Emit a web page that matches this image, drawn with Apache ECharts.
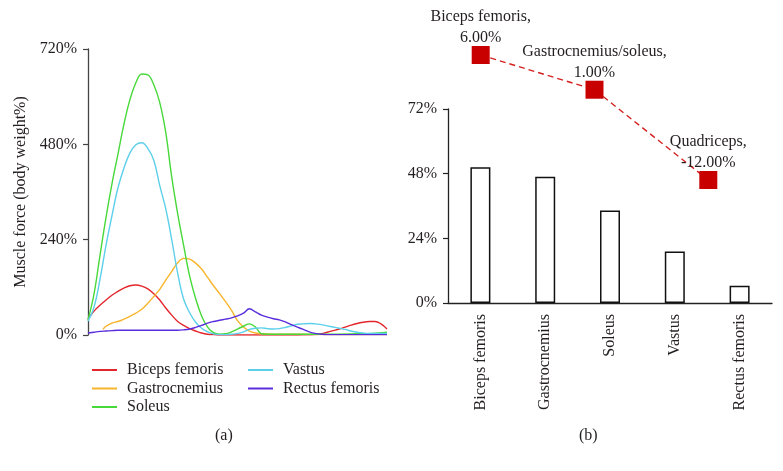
<!DOCTYPE html>
<html><head><meta charset="utf-8">
<script src="https://cdn.jsdelivr.net/npm/echarts/dist/echarts.min.js"></script>
<style>html,body{margin:0;padding:0;background:#fff}#c{width:783px;height:471px}</style>
</head><body><div id="c"></div><script>
const FONT = '"Liberation Serif", "DejaVu Serif", serif';
const TXT = '#231f20';

// (a) muscle force vs. gait cycle [% of cycle, % body weight]
const bicepsFemoris = [[0,40],[2,60],[4,75],[6,88],[8,100],[10,110],[12,118],[14,124],[16,126],[18,123],[20,116],[22,104],[24,88],[26,68],[28,50],[30,34],[32,24],[34,16],[36,10],[38,5],[40,2],[42,1],[44,0],[50,0],[60,0],[70,0],[74,0.5],[76,1],[78,3],[80,7],[82,11],[84,15],[86,20],[88,25],[90,29],[92,32],[94,34],[96,34],[98,28],[100,15]];
const gastrocnemius = [[5,14],[6,22],[8,30],[10,34],[12,40],[14,47],[16,55],[18,65],[20,80],[22,97],[24,115],[26,138],[28,160],[30,182],[32,193],[34,191],[36,181],[38,166],[40,145],[42,124],[44,104],[46,84],[48,62],[50,36],[52,20],[54,10],[56,5],[58,3],[62,2],[70,2],[80,1],[90,1],[100,1]];
const soleus = [[0,38],[2,103],[4,200],[6,295],[8,380],[10,455],[12,530],[14,592],[16,635],[18,657],[20,655],[22,630],[24,585],[26,510],[28,398],[30,305],[32,225],[34,148],[36,92],[38,48],[40,20],[42,6],[44,2],[46,3],[48,8],[50,15],[52,22],[54,28],[56,20],[58,3],[60,2],[70,2],[80,2],[90,3],[95,4],[100,7]];
const vastus = [[0,35],[2,70],[4,140],[6,225],[8,300],[10,370],[12,420],[14,458],[16,479],[18,484],[20,470],[22,440],[24,376],[26,318],[28,240],[30,155],[32,90],[34,56],[36,32],[38,17],[40,8],[42,3],[44,1],[46,1],[48,2],[50,4],[52,8],[54,14],[56,17],[58,18],[60,16],[62,15],[64,16],[66,19],[68,23],[70,27],[72,28],[74,29],[76,28],[78,26],[80,23],[82,20],[84,17],[86,14],[88,10],[90,7],[92,5],[94,4],[100,4]];
const rectusFemoris = [[0,5],[2,7],[4,9],[6,10],[8,11],[10,12],[14,12],[20,12],[26,12],[30,12],[32,13],[34,15],[36,19],[38,24],[40,30],[42,34],[44,37],[46,40],[48,43],[50,48],[52,55],[54,66],[56,58],[58,50],[60,45],[62,41],[64,38],[66,33],[68,26],[70,20],[72,14],[74,8],[76,4],[78,2],[80,1],[100,1]];
const lineNames = ['Biceps femoris','Gastrocnemius','Soleus','Vastus','Rectus femoris'];
const lineColors = ['#e3262b','#f7b52c','#47d83a','#5ccfea','#5a2ddc'];
const forceTicks = {min:0, max:720, step:240};

// (b) bars
const barCategories = ['Biceps femoris','Gastrocnemius','Soleus','Vastus','Rectus femoris'];
const barValues = [50.4, 46.9, 34.3, 19.1, 6.4];
const barTicks = {min:0, max:72, step:24};

// (b) change markers
const changeCategories = ['Biceps femoris','Gastrocnemius/soleus','Quadriceps'];
const changeValues = [6, 1, -12];

const lineData = [bicepsFemoris, gastrocnemius, soleus, vastus, rectusFemoris];

const chart = echarts.init(document.getElementById('c'));
const FS = 16;
const axisFont = {fontFamily: FONT, fontSize: FS, color: TXT};

const series = lineData.map((d, i) => ({
  name: lineNames[i], type: 'line', xAxisIndex: 0, yAxisIndex: 0, data: d,
  symbol: 'none', showSymbol: false, smooth: 0.4,
  lineStyle: {color: lineColors[i], width: 1.4}, itemStyle: {color: lineColors[i]}
}));
series.push({
  type: 'bar', xAxisIndex: 1, yAxisIndex: 1, data: barValues, barWidth: 20,
  itemStyle: {color: '#fff', borderColor: '#111', borderWidth: 1.5}
});
series.push({
  type: 'line', xAxisIndex: 2, yAxisIndex: 2, data: changeValues,
  symbol: 'rect', symbolSize: 18, showSymbol: true,
  lineStyle: {color: '#d42020', width: 1.4, type: [6, 4]},
  itemStyle: {color: '#c80000'},
  label: {show: true, position: 'top', distance: -2.5, fontFamily: FONT, fontSize: FS, lineHeight: 21, color: TXT,
    formatter: p => p.name + ',\n' + p.value.toFixed(2) + '%'}
});

const legendBase = {
  orient: 'vertical', top: 357, itemWidth: 25, itemHeight: 2, itemGap: 2.5, icon: 'rect',
  textStyle: {fontFamily: FONT, fontSize: FS, lineHeight: 16, color: TXT, padding: [0,0,0,5]},
  selectedMode: false
};

chart.setOption({
  animation: false,
  textStyle: {fontFamily: FONT},
  grid: [
    {left: 88, top: 49, width: 299, height: 286},
    {left: 448, top: 109, width: 324, height: 194},
    {left: 423.8, top: 55, width: 341.4, height: 125}
  ],
  xAxis: [
    {gridIndex: 0, type: 'value', min: 0, max: 100, show: false},
    {gridIndex: 1, type: 'category', data: barCategories,
      axisLine: {lineStyle: {color: '#222', width: 1.3}},
      axisTick: {alignWithLabel: true, length: 5, lineStyle: {color: '#222', width: 1.2}},
      axisLabel: Object.assign({rotate: 90, margin: 11, interval: 0}, axisFont)},
    {gridIndex: 2, type: 'category', data: changeCategories, show: false}
  ],
  yAxis: [
    {gridIndex: 0, type: 'value', min: forceTicks.min, max: forceTicks.max, interval: forceTicks.step,
      name: 'Muscle force (body weight%)', nameLocation: 'middle', nameGap: 59,
      nameTextStyle: axisFont,
      axisLine: {show: true, lineStyle: {color: '#444', width: 1.3}},
      axisTick: {show: true, length: 5, lineStyle: {color: '#444', width: 1.2}},
      axisLabel: Object.assign({formatter: '{value}%', margin: 11}, axisFont),
      splitLine: {show: false}},
    {gridIndex: 1, type: 'value', min: barTicks.min, max: barTicks.max, interval: barTicks.step,
      axisLine: {show: true, lineStyle: {color: '#222', width: 1.3}},
      axisTick: {show: true, length: 5, lineStyle: {color: '#222', width: 1.2}},
      axisLabel: Object.assign({formatter: '{value}%', margin: 11}, axisFont),
      splitLine: {show: false}},
    {gridIndex: 2, type: 'value', min: -12, max: 6, show: false}
  ],
  legend: [
    Object.assign({left: 87, data: lineNames.slice(0, 3)}, legendBase),
    Object.assign({left: 243, data: lineNames.slice(3)}, legendBase)
  ],
  graphic: [
    {type: 'text', left: 215, top: 428, style: {text: '(a)', font: FS + 'px ' + FONT, fill: TXT}},
    {type: 'text', left: 579, top: 428, style: {text: '(b)', font: FS + 'px ' + FONT, fill: TXT}}
  ],
  series: series
});
</script></body></html>
